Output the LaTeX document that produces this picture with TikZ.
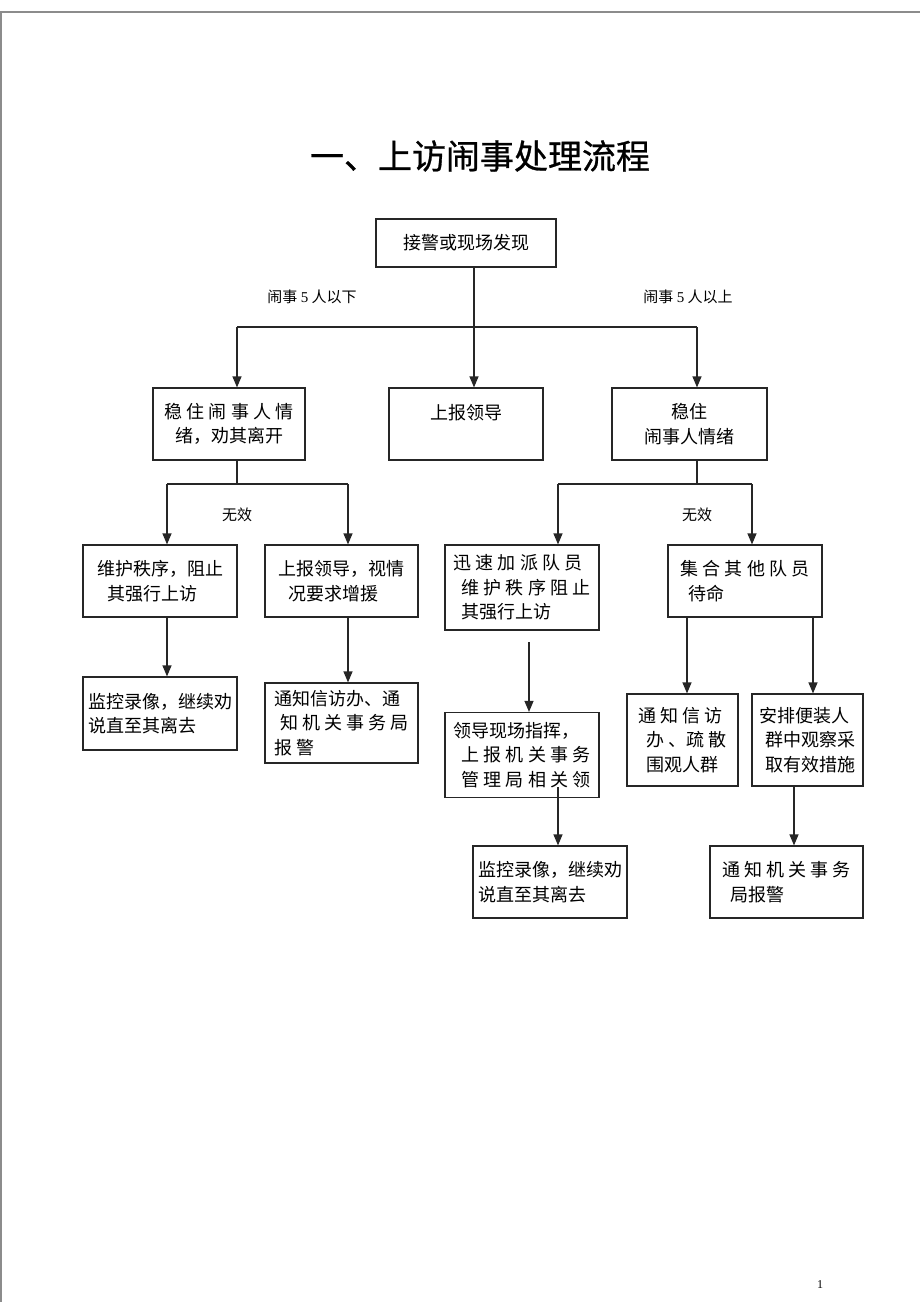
\documentclass[tikz,border=0pt]{standalone}
\usepackage{fontspec}
\setmainfont{Noto Sans CJK SC}
\newfontfamily\latin{Liberation Serif}
\newfontfamily\titlefont[FakeBold=0.8]{Noto Sans CJK SC}
\usetikzlibrary{arrows.meta}
\tikzset{
  box/.style={draw=black!85, line width=1.2pt, inner sep=0pt, align=left, font=\fontsize{18}{24.5}\selectfont},
  tag/.style={font=\fontsize{15}{17}\selectfont},
  link/.style={draw=black!85, line width=1.2pt},
  flow/.style={link, -{Triangle[length=11pt,width=9pt]}},
}

\begin{document}
\begin{tikzpicture}[x=1pt,y=-1pt]
  \useasboundingbox (0,0) rectangle (920,1302);
  \draw[black!45, line width=1.5pt] (920,12) -- (1,12) -- (1,1302);
  \node[font=\fontsize{34}{40}\selectfont\titlefont](title) at (480,156){一、上访闹事处理流程};
  % first row
  \node[box,minimum width=180pt,minimum height=48pt](start) at (466,243){接警或现场发现};
  \node[tag](less) at (312,297){闹事 {\latin 5} 人以下};
  \node[tag](more) at (688,297){闹事 {\latin 5} 人以上};
  \node[box,align=center,minimum width=152pt,minimum height=72pt](calmless) at (229,424){稳 住 闹 事 人 情\\绪，劝其离开};
  \node[box,align=center,minimum width=154pt,minimum height=72pt](report) at (466,424){上报领导\\~};
  \node[box,align=center,minimum width=155pt,minimum height=72pt](calmmore) at (689.5,424){稳住\\闹事人情绪};
  % left branch
  \node[tag](failL) at (237,515){无效};
  \node[box,minimum width=154pt,minimum height=72pt](keep) at (160,581){维护秩序，阻止\\\hspace*{10pt}其强行上访};
  \node[box,minimum width=153pt,minimum height=72pt](askhelp) at (341.5,581){上报领导，视情\\\hspace*{10pt}况要求增援};
  \node[box,minimum width=154pt,minimum height=73pt](monitorA) at (160,713.5){监控录像，继续劝\\说直至其离去};
  \node[box,minimum width=153pt,minimum height=80pt](notifyA) at (341.5,723){通知信访办、通\\\hspace*{6pt}知 机 关 事 务 局\\报 警};
  % right branch
  \node[tag](failR) at (697,515){无效};
  \node[box,minimum width=154pt,minimum height=85pt](dispatch) at (522,587.5){迅 速 加 派 队 员\\\hspace*{8pt}维 护 秩 序 阻 止\\\hspace*{8pt}其强行上访};
  \node[box,minimum width=154pt,minimum height=72pt](gather) at (745,581){集 合 其 他 队 员\\\hspace*{8pt}待命};
  \node[box,minimum width=154pt,minimum height=85pt](command) at (522,755){领导现场指挥，\\\hspace*{8pt}上 报 机 关 事 务\\\hspace*{8pt}管 理 局 相 关 领};
  \node[box,minimum width=111pt,minimum height=92pt](disperse) at (682.5,740){通 知 信 访\\\hspace*{8pt}办 、疏 散\\\hspace*{8pt}围观人群};
  \node[box,minimum width=111pt,minimum height=92pt](plain) at (807.5,740){安排便装人\\\hspace*{6pt}群中观察采\\\hspace*{6pt}取有效措施};
  \node[box,minimum width=154pt,minimum height=72pt](monitorB) at (550,882){监控录像，继续劝\\说直至其离去};
  \node[box,minimum width=153pt,minimum height=72pt](notifyB) at (786.5,882){通 知 机 关 事 务\\\hspace*{8pt}局报警};
  % junctions
  \coordinate (mid) at (474,327);
  \coordinate (a) at (237,327);
  \coordinate (b) at (697,327);
  \coordinate (c) at (167,484);
  \coordinate (d) at (348,484);
  \coordinate (e) at (558,484);
  \coordinate (f) at (752,484);
  \coordinate (g) at (529,642);
  \coordinate (h) at (687,0);
  \coordinate (i) at (813,0);
  \coordinate (k) at (558,787);
  \coordinate (m) at (794,0);
  % connectors
  \draw[flow] (start.south -| mid) -- (report.north -| mid);
  \draw[link] (a) -- (b);
  \draw[flow] (a) -- (calmless.north -| a);
  \draw[flow] (b) -- (calmmore.north -| b);
  \draw[link] (calmless.south -| a) -- (a |- c);
  \draw[link] (c) -- (d);
  \draw[flow] (c) -- (keep.north -| c);
  \draw[flow] (d) -- (askhelp.north -| d);
  \draw[flow] (keep.south -| c) -- (monitorA.north -| c);
  \draw[flow] (askhelp.south -| d) -- (notifyA.north -| d);
  \draw[link] (calmmore.south -| b) -- (b |- e);
  \draw[link] (e) -- (f);
  \draw[flow] (e) -- (dispatch.north -| e);
  \draw[flow] (f) -- (gather.north -| f);
  \draw[flow] (g) -- (command.north -| g);
  \draw[flow] (gather.south -| h) -- (disperse.north -| h);
  \draw[flow] (gather.south -| i) -- (plain.north -| i);
  \draw[flow] (k) -- (monitorB.north -| k);
  \draw[flow] (plain.south -| m) -- (notifyB.north -| m);
  \node[font=\fontsize{12}{14}\selectfont\latin](page) at (820,1285){1};
\end{tikzpicture}
\end{document}
